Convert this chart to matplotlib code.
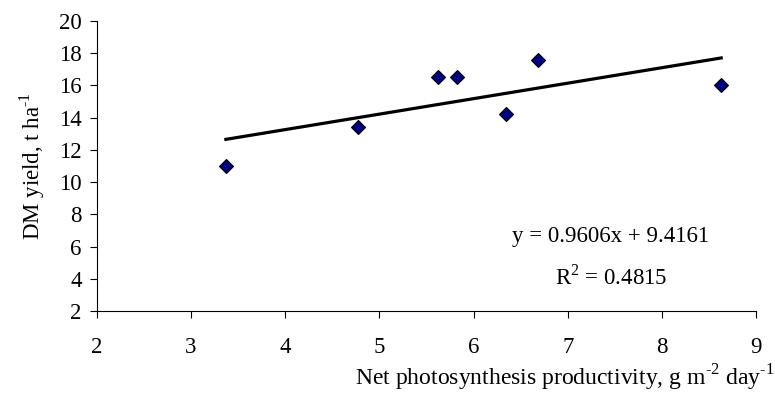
import numpy as np
import matplotlib
matplotlib.use("Agg")
import matplotlib.pyplot as plt

# net photosynthesis productivity vs DM yield
npp = [3.37, 4.77, 5.62, 5.82, 6.35, 6.68, 8.63]
dm_yield = [11.0, 13.4, 16.55, 16.55, 14.25, 17.55, 16.0]
slope, intercept = 0.9606, 9.4161
r2 = 0.4815
xticks = [2, 3, 4, 5, 6, 7, 8, 9]
yticks = [2, 4, 6, 8, 10, 12, 14, 16, 18, 20]

plt.rcParams["font.family"] = ["Liberation Serif", "DejaVu Serif"]
plt.rcParams["mathtext.fontset"] = "custom"
plt.rcParams["mathtext.rm"] = "Liberation Serif"
FS = 16.5
HY = "\u2010"  # plain hyphen in superscripts, like the original

fig = plt.figure(figsize=(7.75, 3.94), dpi=100)
ax = fig.add_axes([0.125, 0.2107, 0.8505, 0.736])

xl = np.array([min(npp), max(npp)])
ax.plot(xl, slope * xl + intercept, color="black", lw=2.3, zorder=2)
ax.plot(npp, dm_yield, ls="none", marker="D", ms=7, mfc="#000080",
        mec="black", mew=0.8, zorder=3)

ax.set_xlim(2, 9)
ax.set_ylim(2, 20)
ax.set_xticks(xticks)
ax.set_yticks(yticks)
ax.tick_params(direction="out", length=5, width=0.8, labelsize=FS)
ax.tick_params(axis="y", pad=6)
ax.tick_params(axis="x", pad=14)
for s in ["top", "right"]:
    ax.spines[s].set_visible(False)

fig.text(32 / 775, 1 - 166 / 394, "DM yield, t ha$^{" + HY + "1}$",
         rotation=90, ha="center", va="center", fontsize=FS)
fig.text(0.999, 0.022,
         "Net photosynthesis productivity, g m$^{" + HY + "2}$ day$^{" + HY + "1}$",
         ha="right", va="baseline", fontsize=17)

ax.text(7.46, 6.6, "y = 0.9606x + 9.4161", ha="center", va="center", fontsize=FS)
ax.text(7.46, 4.1, "R$^2$ = %.4f" % r2, ha="center", va="center", fontsize=FS)

fig.savefig("out.png", dpi=100)
